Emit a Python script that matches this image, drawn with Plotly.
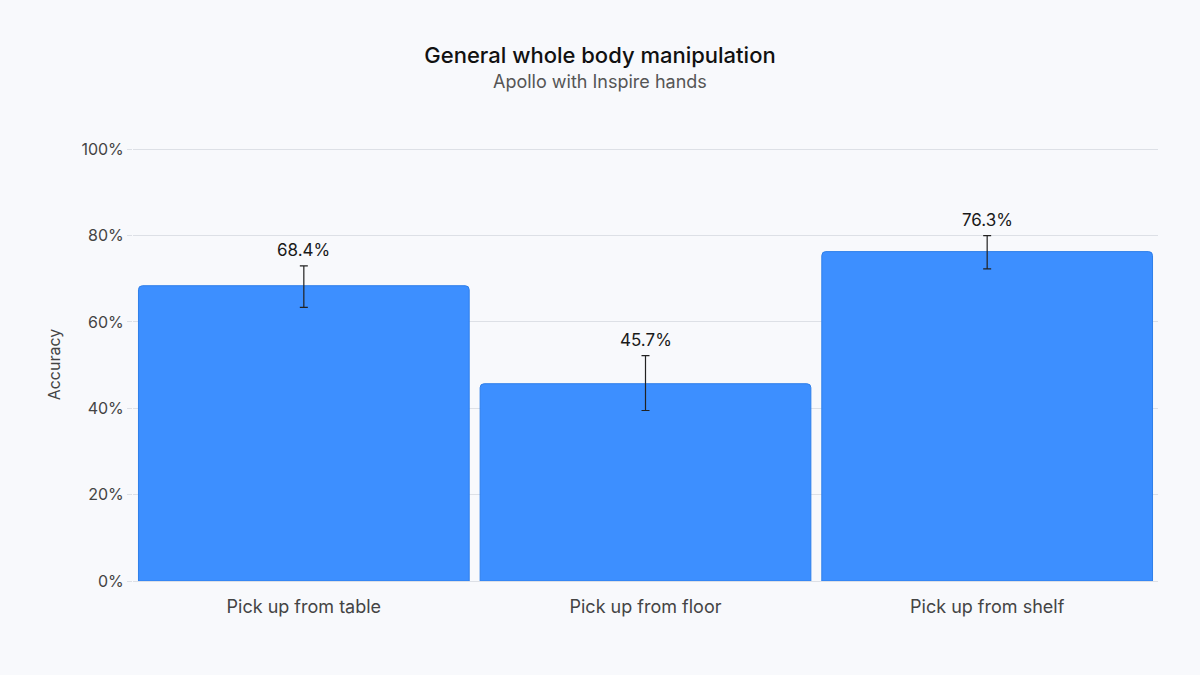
import plotly.graph_objects as go

categories = ["Pick up from table", "Pick up from floor", "Pick up from shelf"]
accuracy = [68.4, 45.7, 76.3]
err_plus = [4.6, 6.5, 3.7]
err_minus = [5.0, 6.2, 4.0]
labels = ["68.4%", "45.7%", "76.3%"]
y_ticks = [0, 20, 40, 60, 80, 100]
y_tick_labels = ["0%", "20%", "40%", "60%", "80%", "100%"]

FONT = "Inter, Roboto, sans-serif"
BG = "#F8F9FC"

fig = go.Figure()
fig.add_trace(go.Bar(
    x=categories, y=accuracy,
    marker=dict(color="#3D8FFF", line=dict(color="#2F7FEA", width=1), cornerradius=4),
    error_y=dict(type="data", symmetric=False, array=err_plus, arrayminus=err_minus,
                 color="#222222", thickness=1.2, width=4),
    hoverinfo="skip",
))

for c, v, e, t in zip(categories, accuracy, err_plus, labels):
    fig.add_annotation(x=c, y=v + e, text=t, showarrow=False, yanchor="bottom",
                       yshift=4, font=dict(family=FONT, size=17, color="#1a1a1a"))

fig.add_annotation(xref="paper", yref="paper", x=(600 - 133) / 1025, y=(581 - 81) / 433,
                   text="Apollo with Inspire hands", showarrow=False,
                   xanchor="center", yanchor="middle",
                   font=dict(family=FONT, size=18, color="#555555"))

fig.update_layout(
    width=1200, height=675,
    paper_bgcolor=BG, plot_bgcolor=BG,
    margin=dict(l=133, r=42, t=148, b=94),
    bargap=0.032,
    showlegend=False,
    title=dict(
        text="General whole body manipulation",
        x=0.5, xanchor="center", y=1 - 55 / 675, yanchor="middle",
        font=dict(family=FONT, size=22, color="#111111", weight=500),
    ),
    xaxis=dict(showgrid=False, showline=False, zeroline=False, ticks="",
               ticklabelstandoff=13,
               tickfont=dict(family=FONT, size=18, color="#444444")),
    yaxis=dict(range=[0, 100.3], tickvals=y_ticks, ticktext=y_tick_labels,
               showgrid=True, gridcolor="#DDE0E6", gridwidth=1,
               zeroline=True, zerolinecolor="#DDE0E6", zerolinewidth=1,
               ticks="outside", ticklen=5, tickcolor="#DDE0E6",
               tickfont=dict(family=FONT, size=16, color="#444444"),
               title=dict(text="Accuracy", standoff=16,
                          font=dict(family=FONT, size=16, color="#444444"))),
)

fig.write_html("out.html", config={"displayModeBar": False},
               post_script="document.body.style.margin='0';")
